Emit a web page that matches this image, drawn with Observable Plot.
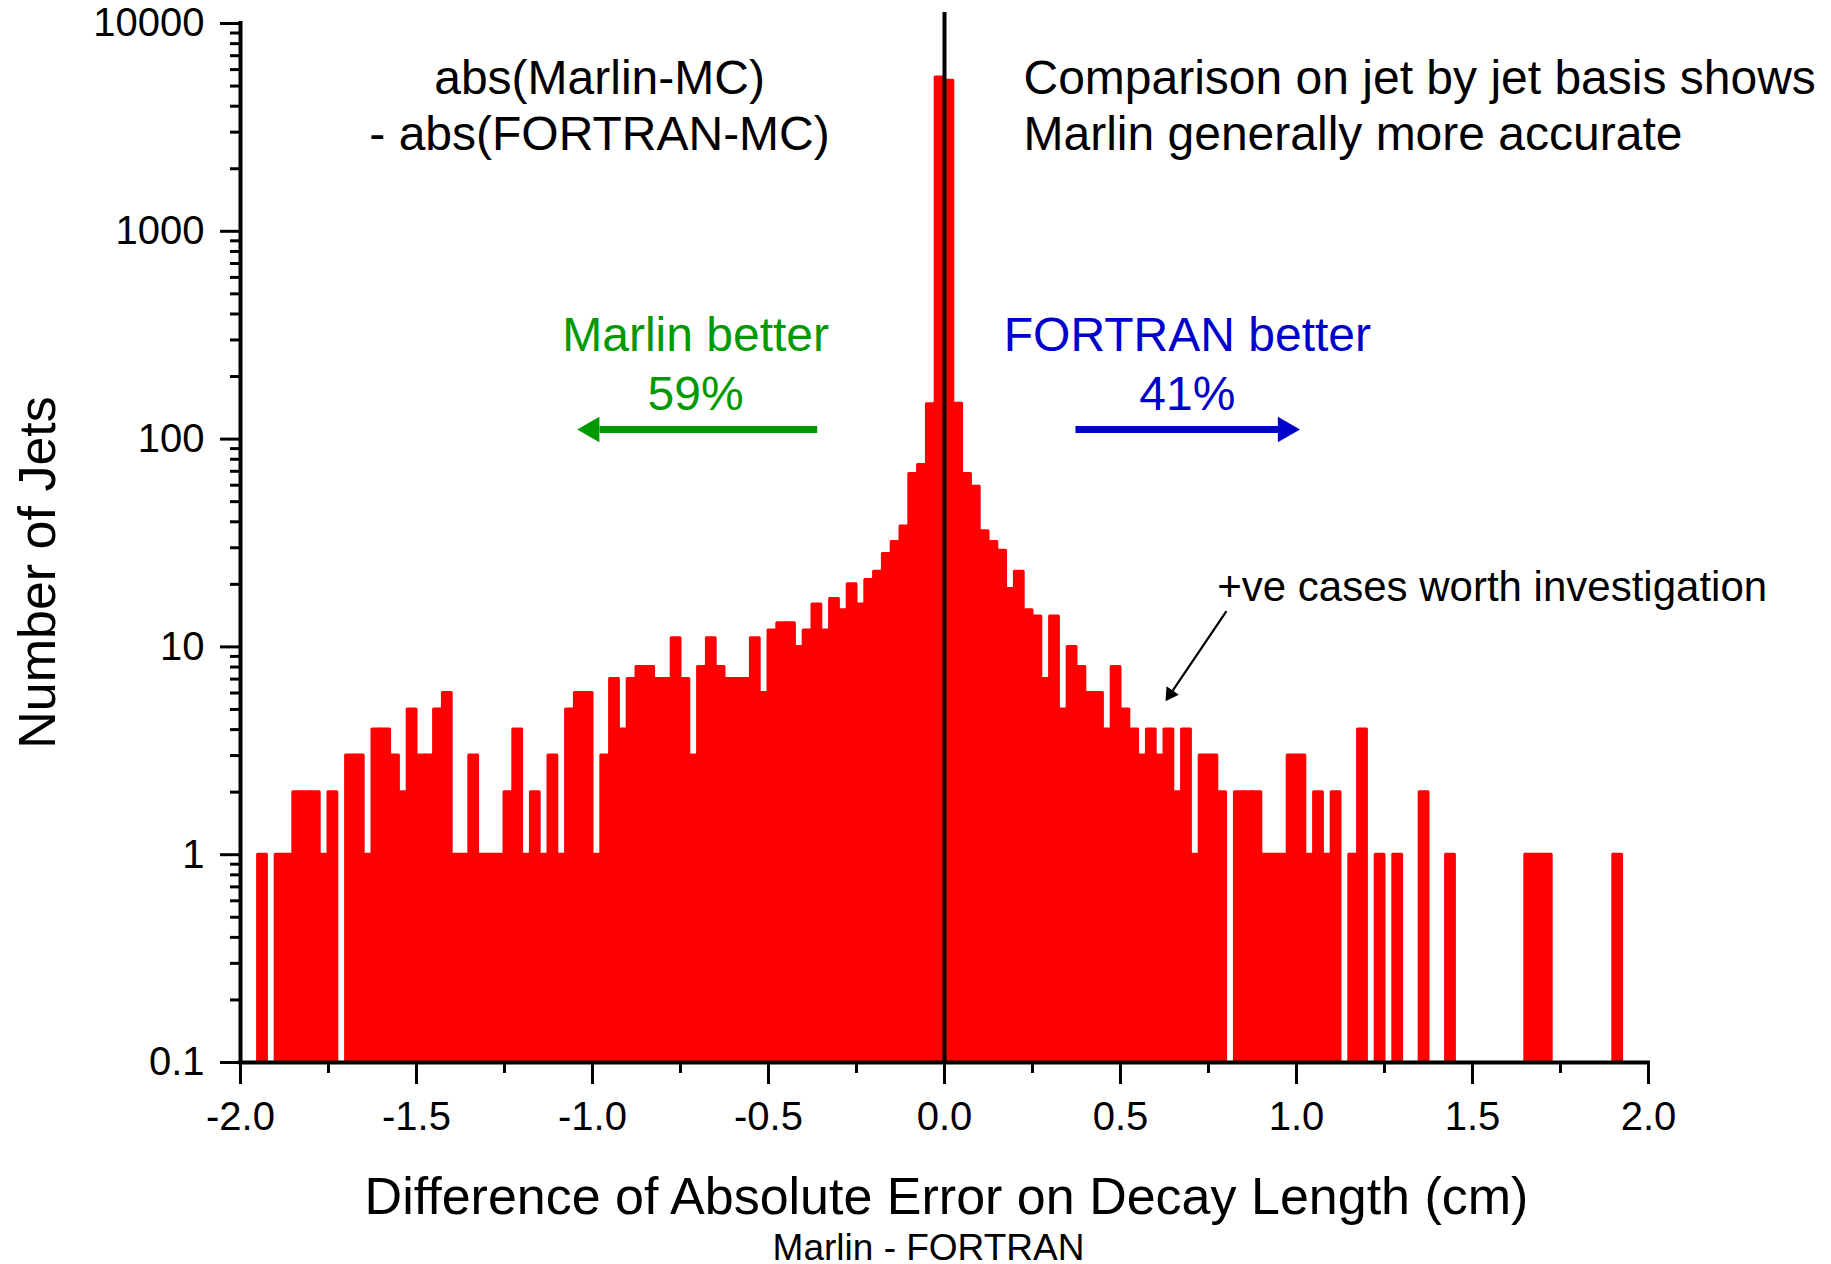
<!DOCTYPE html>
<html>
<head>
<meta charset="utf-8">
<script src="https://cdn.jsdelivr.net/npm/d3@7"></script>
<script src="https://cdn.jsdelivr.net/npm/@observablehq/plot@0.6"></script>
<style>
  html, body { margin: 0; padding: 0; background: #ffffff; }
  #chart svg { display: block; }
</style>
</head>
<body>
<div id="chart"></div>
<script>
// ---- data: histogram of (Marlin - FORTRAN) absolute-error differences, 0.025 cm bins ----
const binWidth = 0.025;

// left edges / counts of non-empty bins with negative difference (Marlin better)
const marlinEdges = [-1.95, -1.9, -1.875, -1.85, -1.825, -1.8, -1.775, -1.75, -1.7, -1.675,
  -1.65, -1.625, -1.6, -1.575, -1.55, -1.525, -1.5, -1.475, -1.45, -1.425,
  -1.4, -1.375, -1.35, -1.325, -1.3, -1.275, -1.25, -1.225, -1.2, -1.175,
  -1.15, -1.125, -1.1, -1.075, -1.05, -1.025, -1.0, -0.975, -0.95, -0.925,
  -0.9, -0.875, -0.85, -0.825, -0.8, -0.775, -0.75, -0.725, -0.7, -0.675,
  -0.65, -0.625, -0.6, -0.575, -0.55, -0.525, -0.5, -0.475, -0.45, -0.425,
  -0.4, -0.375, -0.35, -0.325, -0.3, -0.275, -0.25, -0.225, -0.2, -0.175,
  -0.15, -0.125, -0.1, -0.075, -0.05, -0.025];
const marlinCounts = [1, 1, 1, 2, 2, 2, 1, 2, 3, 3,
  1, 4, 4, 3, 2, 5, 3, 3, 5, 6,
  1, 1, 3, 1, 1, 1, 2, 4, 1, 2,
  1, 3, 1, 5, 6, 6, 1, 3, 7, 4,
  7, 8, 8, 7, 7, 11, 7, 3, 8, 11,
  8, 7, 7, 7, 11, 6, 12, 13, 13, 10,
  12, 16, 12, 17, 15, 20, 16, 21, 23, 28,
  32, 38, 68, 75, 147, 5500];

// left edges / counts of non-empty bins with positive difference (FORTRAN better)
const fortranEdges = [0, 0.025, 0.05, 0.075, 0.1, 0.125, 0.15, 0.175, 0.2, 0.225,
  0.25, 0.275, 0.3, 0.325, 0.35, 0.375, 0.4, 0.425, 0.45, 0.475,
  0.5, 0.525, 0.55, 0.575, 0.6, 0.625, 0.65, 0.675, 0.7, 0.725,
  0.75, 0.775, 0.825, 0.85, 0.875, 0.9, 0.925, 0.95, 0.975, 1.0,
  1.025, 1.05, 1.075, 1.1, 1.15, 1.175, 1.225, 1.275, 1.35, 1.425,
  1.65, 1.675, 1.7, 1.9];
const fortranCounts = [5300, 148, 68, 59, 36, 32, 29, 19, 23, 15,
  14, 7, 14, 5, 10, 8, 6, 6, 4, 8,
  5, 4, 3, 4, 3, 4, 2, 4, 1, 3,
  3, 2, 2, 2, 2, 1, 1, 1, 3, 3,
  1, 2, 1, 2, 1, 4, 1, 1, 2, 1,
  1, 1, 1, 1];

// axis ticks
const xTickValues = [-2, -1.5, -1, -0.5, 0, 0.5, 1, 1.5, 2];
const xTickLabels = ["-2.0", "-1.5", "-1.0", "-0.5", "0.0", "0.5", "1.0", "1.5", "2.0"];
const xMinorTickValues = [-1.75, -1.25, -0.75, -0.25, 0.25, 0.75, 1.25, 1.75];
const yTickValues = [0.1, 1, 10, 100, 1000, 10000];
const yTickLabels = ["0.1", "1", "10", "100", "1000", "10000"];
const yMinorTickValues = [];
for (const decade of [0.1, 1, 10, 100, 1000]) for (const m of [2, 3, 4, 5, 6, 7, 8, 9]) yMinorTickValues.push(+(m * decade).toPrecision(3));

// texts
const xTitle = "Difference of Absolute Error on Decay Length (cm)";
const xSubtitle = "Marlin - FORTRAN";
const yTitle = "Number of Jets";
const formulaText = "abs(Marlin-MC)\n- abs(FORTRAN-MC)";
const commentText = "Comparison on jet by jet basis shows\nMarlin generally more accurate";
const marlinText = "Marlin better\n59%";
const fortranText = "FORTRAN better\n41%";
const noteText = "+ve cases worth investigation";

// ---- build table ----
const bins = [
  ...marlinEdges.map((e, i) => ({lo: e, hi: e + binWidth, count: marlinCounts[i]})),
  ...fortranEdges.map((e, i) => ({lo: e, hi: e + binWidth, count: fortranCounts[i]}))
];

const font = "'Liberation Sans', Arial, Helvetica, sans-serif";
const red = "#ff0000", green = "#009900", blue = "#0000cc";

const chart = Plot.plot({
  width: 1831,
  height: 1264,
  marginLeft: 240,
  marginRight: 183,
  marginTop: 23,
  marginBottom: 202,
  style: {fontFamily: font, background: "#ffffff", color: "#000000", overflow: "visible"},
  x: {domain: [-2, 2], label: null},
  y: {type: "log", domain: [0.1, 10000], label: null},
  marks: [
    // histogram
    Plot.rectY(bins, {x1: "lo", x2: "hi", y1: 0.1, y2: "count",
      fill: red, stroke: red, strokeWidth: 3, strokeLinejoin: "round"}),

    // zero line
    Plot.ruleX([0], {y1: 0.1, y2: 11300, stroke: "#000", strokeWidth: 4}),

    // axes lines
    Plot.ruleX([-2], {stroke: "#000", strokeWidth: 4, strokeLinecap: "square"}),
    Plot.ruleY([0.1], {stroke: "#000", strokeWidth: 4, strokeLinecap: "square"}),

    // x axis ticks
    Plot.axisX({ticks: xTickValues, tickSize: 22, tickPadding: 17, strokeWidth: 3,
      tickFormat: d => xTickLabels[xTickValues.indexOf(d)], fontSize: 40, label: null}),
    Plot.axisX({ticks: xMinorTickValues, tickSize: 11, strokeWidth: 3,
      tickFormat: () => "", label: null}),

    // y axis ticks
    Plot.axisY({ticks: yTickValues, tickSize: 20, tickPadding: 16, strokeWidth: 3,
      tickFormat: d => yTickLabels[yTickValues.indexOf(d)], fontSize: 40, label: null}),
    Plot.axisY({ticks: yMinorTickValues, tickSize: 10, strokeWidth: 3,
      tickFormat: () => "", label: null}),

    // axis titles
    Plot.text([xTitle], {text: d => d, frameAnchor: "bottom", dx: 2, dy: 151, textAnchor: "middle",
      lineAnchor: "bottom", fontSize: 52}),
    Plot.text([xSubtitle], {text: d => d, frameAnchor: "bottom", dx: -16, dy: 197, textAnchor: "middle",
      lineAnchor: "bottom", fontSize: 37}),
    Plot.text([yTitle], {text: d => d, frameAnchor: "left", dx: -186, dy: 29.5, rotate: -90,
      textAnchor: "middle", lineAnchor: "bottom", fontSize: 52}),

    // annotations
    Plot.text([formulaText], {text: d => d, x: -0.98, y: 2450, textAnchor: "middle",
      lineAnchor: "bottom", lineHeight: 1.1667, fontSize: 48}),
    Plot.text([commentText], {text: d => d, x: 0.2244, y: 2450, textAnchor: "start",
      lineAnchor: "bottom", lineHeight: 1.1667, fontSize: 48}),
    Plot.text([marlinText], {text: d => d, x: -0.707, y: 138.4, textAnchor: "middle",
      lineAnchor: "bottom", lineHeight: 1.229, fontSize: 48, fill: green}),
    Plot.text([fortranText], {text: d => d, x: 0.69, y: 138.4, textAnchor: "middle",
      lineAnchor: "bottom", lineHeight: 1.229, fontSize: 48, fill: blue}),
    Plot.text([noteText], {text: d => d, x: 0.775, y: 16.6, textAnchor: "start",
      lineAnchor: "bottom", fontSize: 42}),

    // green arrow (left)
    Plot.link([0], {x1: -0.3616, y1: 111.2, x2: -0.98, y2: 111.2, stroke: green, strokeWidth: 7}),
    Plot.dot([0], {x: -1.0014, y: 111.2, symbol: "triangle", r: 9.5, fill: green, stroke: "none", rotate: -90}),
    // blue arrow (right)
    Plot.link([0], {x1: 0.372, y1: 111.2, x2: 0.95, y2: 111.2, stroke: blue, strokeWidth: 7}),
    Plot.dot([0], {x: 0.968, y: 111.2, symbol: "triangle", r: 9.5, fill: blue, stroke: "none", rotate: 90}),
    // black pointer arrow
    Plot.link([0], {x1: 0.801, y1: 14.86, x2: 0.6483, y2: 6.163, stroke: "#000", strokeWidth: 2.2}),
    Plot.dot([0], {x: 0.6415, y: 5.93, symbol: "triangle", r: 5.5, fill: "#000", stroke: "none", rotate: 214})
  ]
});

document.getElementById("chart").appendChild(chart);
</script>
</body>
</html>
